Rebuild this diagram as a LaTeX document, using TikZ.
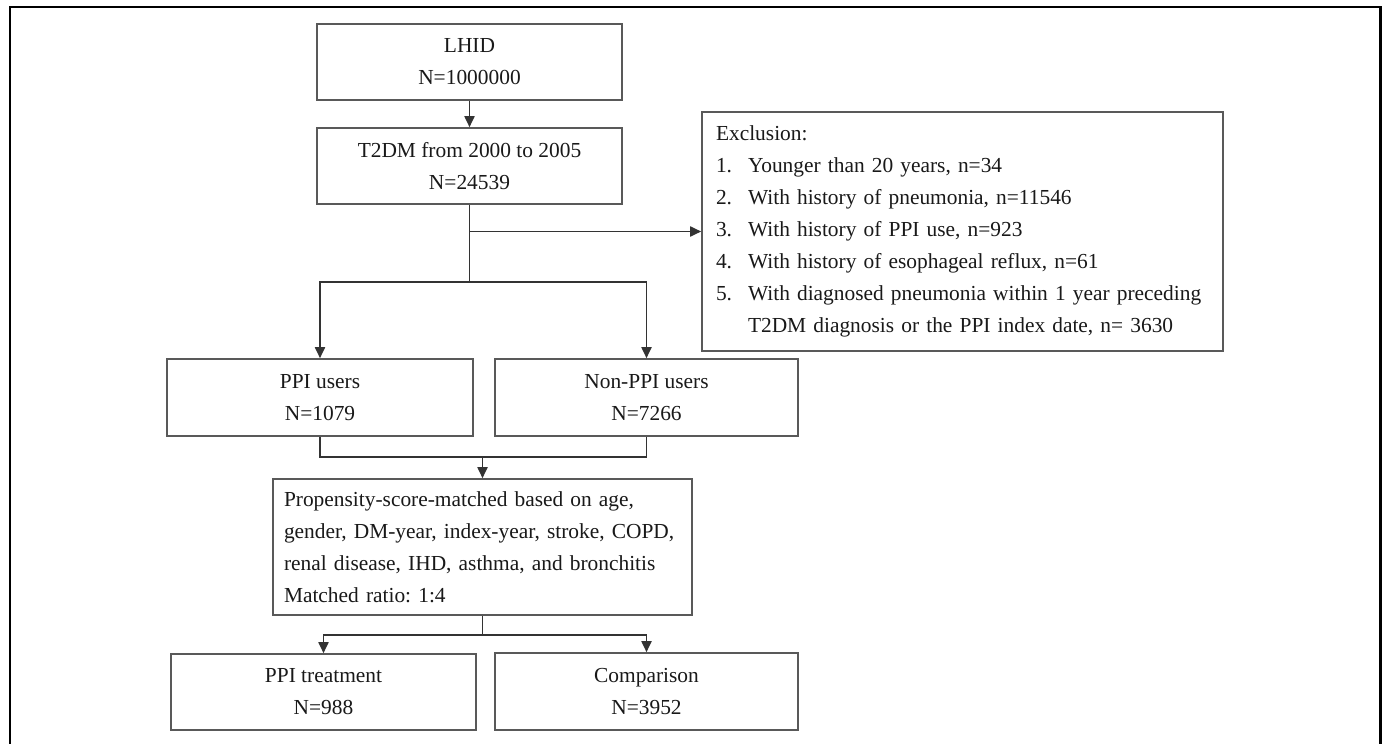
\documentclass[tikz,border=0pt]{standalone}
\usepackage{fontspec}
\setmainfont{Liberation Serif}
\usetikzlibrary{arrows.meta}
\newcommand{\exitem}[1]{\makebox[32pt][l]{#1}}
\begin{document}
\frenchspacing
\begin{tikzpicture}[x=1pt,y=-1pt,
  box/.style={draw=black!65, line width=1.6pt, inner sep=0pt, text=black!90,
    align=center, font=\fontsize{21.4}{32}\selectfont},
  lbox/.style={box, align=left},
  conn/.style={draw=black!80, line width=1.8pt},
  arr/.style={conn, -{Triangle[width=10pt,length=11pt]}}]
\useasboundingbox (0,0) rectangle (1382,744);
\fill[white] (0,0) rectangle (1382,744);
\draw[line width=2.2pt] (10,748) -- (10,6.7) -- (1380.5,6.7) -- (1380.5,748);

\node[box, minimum width=305pt, minimum height=76pt] (lhid) at (469.5,62) {LHID\\N=1000000};
\node[box, minimum width=305pt, minimum height=76pt] (t2dm) at (469.5,166) {T2DM from 2000 to 2005\\N=24539};
\node[lbox, text width=493pt, inner xsep=14pt, minimum height=239pt] (excl) at (962.5,231.5) {Exclusion:\\
\exitem{1.}Younger than 20 years, n=34\\
\exitem{2.}With history of pneumonia, n=11546\\
\exitem{3.}With history of PPI use, n=923\\
\exitem{4.}With history of esophageal reflux, n=61\\
\exitem{5.}With diagnosed pneumonia within 1 year preceding\\
\hspace*{32pt}T2DM diagnosis or the PPI index date, n= 3630};
\node[box, minimum width=306pt, minimum height=77pt] (ppi) at (320,397.5) {PPI users\\N=1079};
\node[box, minimum width=303pt, minimum height=77pt] (nonppi) at (646.5,397.5) {Non-PPI users\\N=7266};
\node[lbox, text width=397pt, inner xsep=11pt, minimum height=136pt] (prop) at (482.5,547) {Propensity-score-matched based on age,\\
gender, DM-year, index-year, stroke, COPD,\\
renal disease, IHD, asthma, and bronchitis\\
Matched ratio: 1:4};
\node[box, minimum width=305pt, minimum height=76pt] (treat) at (323.5,692) {PPI treatment\\N=988};
\node[box, minimum width=303pt, minimum height=77pt] (comp) at (646.5,691.5) {Comparison\\N=3952};

\coordinate (b1) at (469.5,231.5);
\coordinate (s1) at (469.5,282);
\coordinate (m1) at (482.5,457);
\coordinate (m2) at (482.5,635);

\draw[arr] (lhid.south) -- (t2dm.north);
\draw[conn] (t2dm.south) -- (s1);
\draw[arr] (b1) -- (excl.west);
\draw[arr] (s1) -| (ppi.north);
\draw[arr] (s1) -| (nonppi.north);
\draw[conn] (ppi.south) |- (m1) -| (nonppi.south);
\draw[arr] (m1) -- (prop.north);
\draw[conn] (prop.south) -- (m2);
\draw[arr] (m2) -| (treat.north);
\draw[arr] (m2) -| (comp.north);
\end{tikzpicture}
\end{document}
